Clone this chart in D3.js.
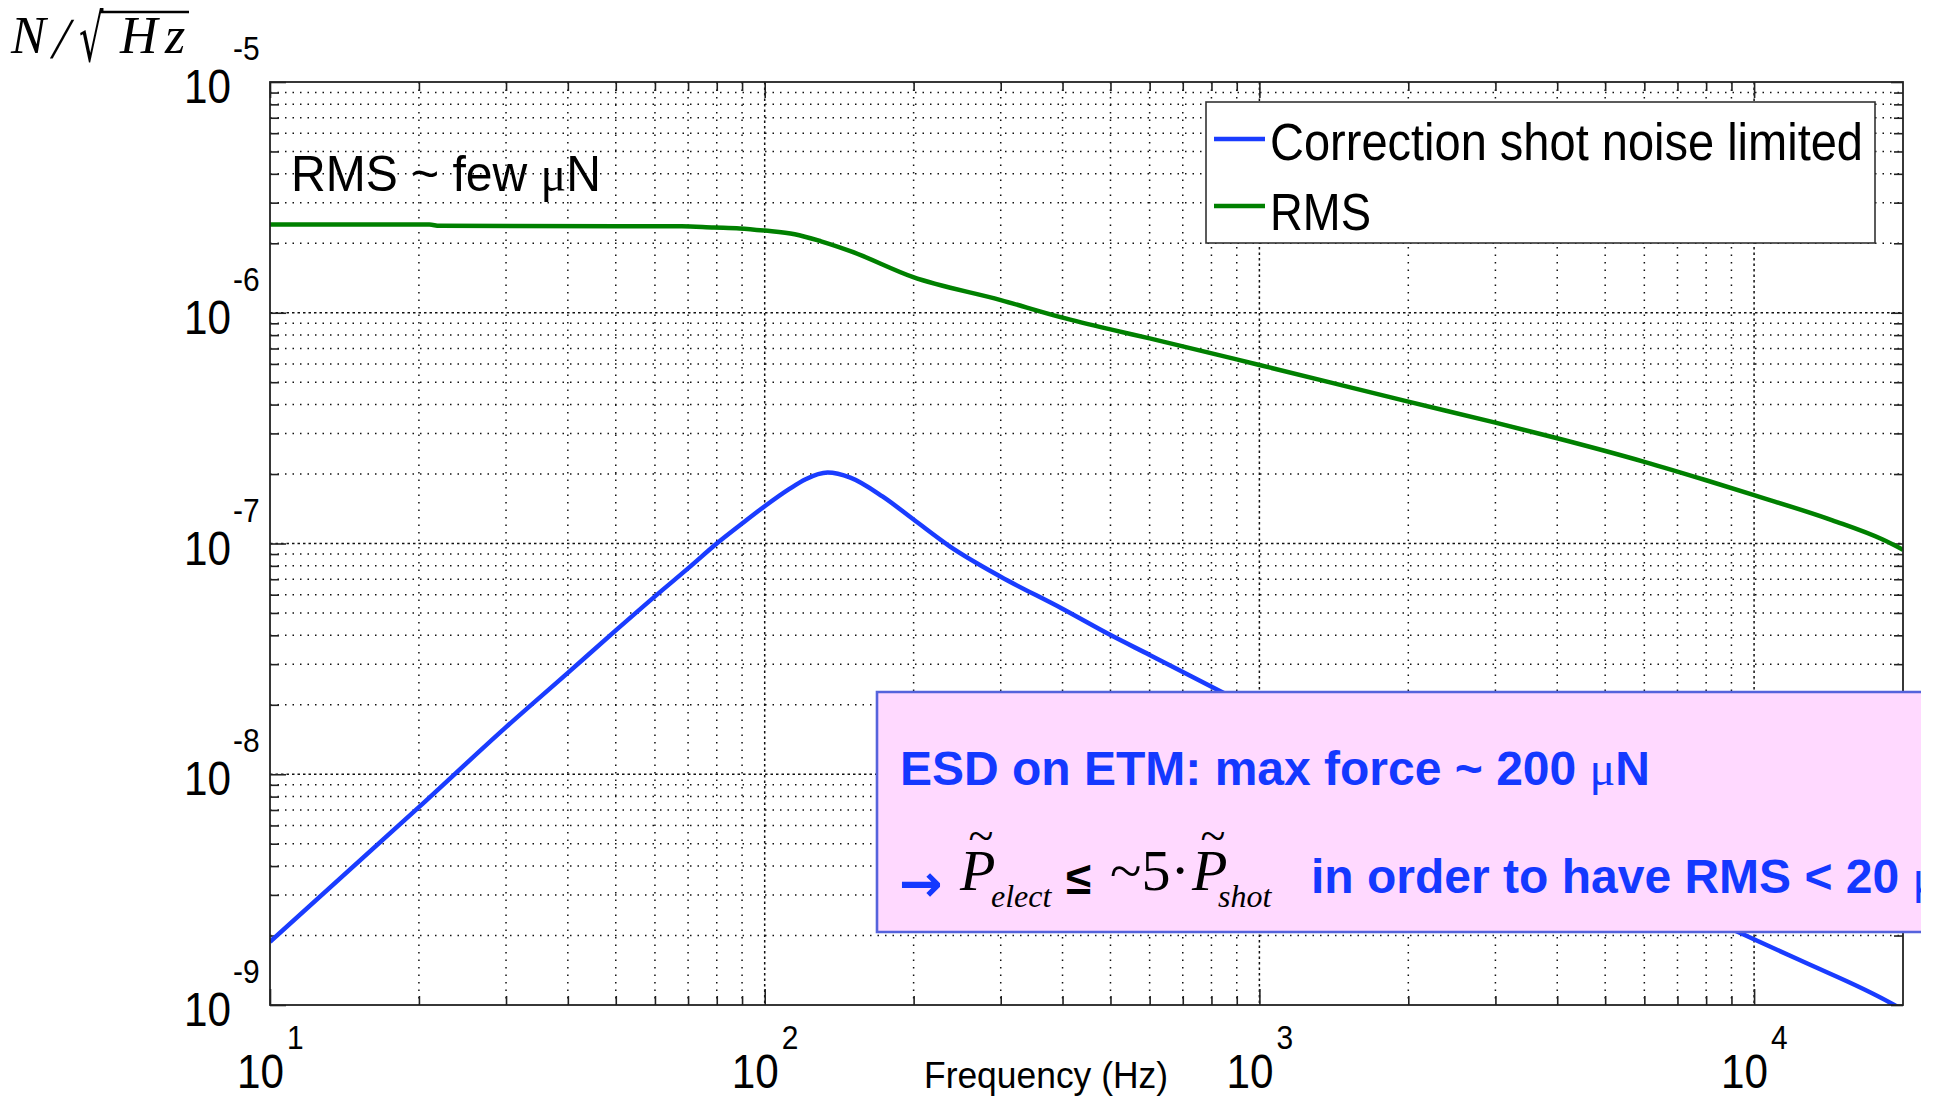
<!DOCTYPE html>
<html>
<head>
<meta charset="utf-8">
<script src="https://cdn.jsdelivr.net/npm/d3@7"></script>
<style>
  html, body { margin: 0; padding: 0; background: #fff; }
  svg { display: block; }
</style>
</head>
<body>
<svg id="chart" width="1934" height="1099"></svg>
<script>
// ---- data -------------------------------------------------------------
// Correction force spectrum when shot-noise limited (N/sqrt(Hz))
const freqCorrection = [10, 20, 30, 40, 50, 60, 70, 80, 90, 100, 112, 121, 134, 149, 173, 200,
                        237, 300, 398, 499, 600, 830, 9330, 12330, 19200, 20000];
const correctionNoise = [1.88e-9, 7.2e-9, 1.6e-8, 2.75e-8, 4.2e-8, 5.9e-8, 7.8e-8, 1.0e-7,
                         1.22e-7, 1.45e-7, 1.72e-7, 1.9e-7, 2.03e-7, 1.93e-7, 1.6e-7, 1.27e-7,
                         9.7e-8, 7.18e-8, 5.24e-8, 4.02e-8, 3.29e-8, 2.30e-8, 2.06e-9, 1.57e-9,
                         1.0e-9, 9.5e-10];

// Cumulative RMS (integrated from high to low frequency)
const freqRMS = [10, 21, 22, 68, 79, 89, 100, 115, 130, 149, 199, 300, 398, 500, 600, 1000,
                 2000, 3000, 4000, 6000, 8000, 10000, 14400, 18200, 20000];
const rmsValues = [2.41e-6, 2.41e-6, 2.38e-6, 2.37e-6, 2.34e-6, 2.32e-6, 2.27e-6, 2.19e-6,
                   2.04e-6, 1.85e-6, 1.43e-6, 1.135e-6, 9.55e-7, 8.47e-7, 7.74e-7, 5.94e-7,
                   4.12e-7, 3.34e-7, 2.86e-7, 2.26e-7, 1.88e-7, 1.62e-7, 1.26e-7, 1.04e-7, 9.4e-8];

const seriesNames = ["Correction shot noise limited", "RMS"];
const seriesColors = ["#1a3cff", "#008000"];

const xTickExponents = [1, 2, 3, 4];
const yTickExponents = [-9, -8, -7, -6, -5];

// ---- layout -----------------------------------------------------------
const L = 270, R = 1903, T = 82, B = 1005;
const SANS = "'Liberation Sans', Arial, Helvetica, sans-serif";
const SERIF = "'Liberation Serif', 'Times New Roman', serif";

const svg = d3.select("#chart");

const x = d3.scaleLog().domain([10, 2e4]).range([L, R]);
const y = d3.scaleLog().domain([1e-9, 1e-5]).range([B, T]);

const majorX = xTickExponents.map(e => Math.pow(10, e));
const majorY = yTickExponents.map(e => Math.pow(10, e));
const minorX = [];
for (let e = 1; e <= 4; e++) for (let m = 2; m <= 9; m++) {
  const v = m * Math.pow(10, e);
  if (v < 2e4) minorX.push(v);
}
const minorY = [];
for (let e = -9; e < -5; e++) for (let m = 2; m <= 9; m++) minorY.push(m * Math.pow(10, e));

// ---- grid (dotted, major lines denser) --------------------------------
const grid = svg.append("g").attr("stroke", "#111").attr("stroke-width", 1.5).attr("fill", "none");
grid.selectAll(".gxm").data(minorX).join("line")
  .attr("x1", d => x(d)).attr("x2", d => x(d)).attr("y1", T).attr("y2", B)
  .attr("stroke-dasharray", "1.5,6");
grid.selectAll(".gym").data(minorY).join("line")
  .attr("x1", L).attr("x2", R).attr("y1", d => y(d)).attr("y2", d => y(d))
  .attr("stroke-dasharray", "1.5,6");
grid.selectAll(".gxM").data(majorX.slice(1)).join("line")
  .attr("x1", d => x(d)).attr("x2", d => x(d)).attr("y1", T).attr("y2", B)
  .attr("stroke-dasharray", "2.5,3");
grid.selectAll(".gyM").data(majorY.slice(1, -1)).join("line")
  .attr("x1", L).attr("x2", R).attr("y1", d => y(d)).attr("y2", d => y(d))
  .attr("stroke-dasharray", "2.5,3");

// ---- inward ticks on all four sides ------------------------------------
function ticks(axisFn, scale, values, size, transform) {
  const g = svg.append("g").attr("transform", transform)
    .call(axisFn(scale).tickValues(values).tickSize(-size).tickFormat(""));
  g.select(".domain").remove();
  g.selectAll("line").attr("stroke", "#222").attr("stroke-width", 1.6);
}
ticks(d3.axisBottom, x, majorX, 16, `translate(0,${B})`);
ticks(d3.axisBottom, x, minorX, 9, `translate(0,${B})`);
ticks(d3.axisTop, x, majorX, 16, `translate(0,${T})`);
ticks(d3.axisTop, x, minorX, 9, `translate(0,${T})`);
ticks(d3.axisLeft, y, majorY, 16, `translate(${L},0)`);
ticks(d3.axisLeft, y, minorY, 9, `translate(${L},0)`);
ticks(d3.axisRight, y, majorY, 12, `translate(${R},0)`);
ticks(d3.axisRight, y, minorY, 9, `translate(${R},0)`);

// ---- curves ------------------------------------------------------------
svg.append("clipPath").attr("id", "plotClip")
  .append("rect").attr("x", L).attr("y", T).attr("width", R - L).attr("height", B - T);

const line = d3.line().x(d => x(d[0])).y(d => y(d[1])).curve(d3.curveMonotoneX);
const corrData = freqCorrection.map((f, i) => [f, correctionNoise[i]]);
const rmsData = freqRMS.map((f, i) => [f, rmsValues[i]]);

const curves = svg.append("g").attr("clip-path", "url(#plotClip)").attr("fill", "none")
  .attr("stroke-width", 4.5).attr("stroke-linejoin", "round");
curves.append("path").attr("d", line(corrData)).attr("stroke", seriesColors[0]);
curves.append("path").attr("d", line(rmsData)).attr("stroke", seriesColors[1]);

// ---- frame -------------------------------------------------------------
svg.append("rect").attr("x", L).attr("y", T).attr("width", R - L).attr("height", B - T)
  .attr("fill", "none").attr("stroke", "#222").attr("stroke-width", 1.8);

// ---- tick labels: 10 with superscript exponent -------------------------
const xl = svg.append("g").attr("font-family", SANS).attr("fill", "#000")
  .selectAll("g").data(xTickExponents).join("g")
  .attr("transform", e => `translate(${x(Math.pow(10, e))},0)`);
xl.append("text").attr("transform", "translate(14,1088) scale(0.88,1)")
  .attr("text-anchor", "end").attr("font-size", 48).text("10");
xl.append("text").attr("transform", "translate(17,1049) scale(0.88,1)")
  .attr("font-size", 34).text(e => e);

const yl = svg.append("g").attr("font-family", SANS).attr("fill", "#000")
  .selectAll("g").data(yTickExponents).join("g")
  .attr("transform", e => `translate(0,${y(Math.pow(10, e))})`);
yl.append("text").attr("transform", "translate(231,21) scale(0.88,1)")
  .attr("text-anchor", "end").attr("font-size", 48).text("10");
yl.append("text").attr("transform", "translate(233,-22) scale(0.88,1)")
  .attr("font-size", 34).text(e => e);

// ---- axis titles -------------------------------------------------------
svg.append("text").attr("x", 924).attr("y", 1088).attr("font-family", SANS)
  .attr("font-size", 37).attr("textLength", 244).attr("lengthAdjust", "spacingAndGlyphs")
  .text("Frequency (Hz)");

const yTitle = svg.append("g").attr("font-family", SERIF).attr("font-style", "italic").attr("fill", "#000");
yTitle.append("text").attr("x", 11).attr("y", 53).attr("font-size", 52).text("N");
yTitle.append("text").attr("transform", "translate(50,58) skewX(-12)").attr("font-size", 58)
  .attr("font-style", "normal").text("/");
yTitle.append("text").attr("transform", "translate(79,61) scale(0.62,1.06)").attr("font-size", 62)
  .attr("font-family", "'DejaVu Serif', serif").attr("font-style", "normal").text("√");
yTitle.append("text").attr("x", 120).attr("y", 53).attr("font-size", 52).text("H");
yTitle.append("text").attr("x", 165).attr("y", 53).attr("font-size", 52).text("z");
yTitle.append("line").attr("x1", 100).attr("x2", 189).attr("y1", 12).attr("y2", 12)
  .attr("stroke", "#000").attr("stroke-width", 2.6);

// ---- in-plot annotation ------------------------------------------------
const note = svg.append("text").attr("x", 291).attr("y", 191).attr("font-family", SANS)
  .attr("font-size", 50).attr("textLength", 310).attr("lengthAdjust", "spacingAndGlyphs");
note.append("tspan").text("RMS ~ few ");
note.append("tspan").attr("font-family", SERIF).text("μ");
note.append("tspan").text("N");

// ---- legend ------------------------------------------------------------
const legend = svg.append("g");
legend.append("rect").attr("x", 1206).attr("y", 102).attr("width", 669).attr("height", 141)
  .attr("fill", "#fff").attr("stroke", "#333").attr("stroke-width", 1.6);
const legendRows = legend.selectAll("g").data(seriesNames).join("g")
  .attr("transform", (d, i) => `translate(0,${i === 0 ? 139 : 206})`);
legendRows.append("line").attr("x1", 1214).attr("x2", 1265).attr("y1", 0).attr("y2", 0)
  .attr("stroke", (d, i) => seriesColors[i]).attr("stroke-width", 4.5);
legendRows.append("text").attr("x", 1270).attr("y", (d, i) => i === 0 ? 21 : 24)
  .attr("font-family", SANS).attr("font-size", 51)
  .attr("textLength", (d, i) => i === 0 ? 593 : 101).attr("lengthAdjust", "spacingAndGlyphs")
  .text(d => d);

// ---- ESD callout box ---------------------------------------------------
const BX0 = 877, BX1 = 1921, BY0 = 692, BY1 = 932;
svg.append("clipPath").attr("id", "boxClip")
  .append("rect").attr("x", BX0).attr("y", BY0).attr("width", BX1 - BX0).attr("height", BY1 - BY0);
svg.append("rect").attr("x", BX0).attr("y", BY0).attr("width", BX1 - BX0).attr("height", BY1 - BY0)
  .attr("fill", "#ffd9ff");
svg.append("path").attr("d", `M${BX1},${BY0}H${BX0}V${BY1}H${BX1}`)
  .attr("fill", "none").attr("stroke", "#5563dc").attr("stroke-width", 2.6);

const box = svg.append("g").attr("clip-path", "url(#boxClip)");
const BLUE_TXT = "#1438ff";

const l1 = box.append("text").attr("x", 900).attr("y", 785).attr("font-family", SANS)
  .attr("font-weight", "bold").attr("font-size", 48).attr("fill", BLUE_TXT);
l1.append("tspan").text("ESD on ETM: max force ~ 200 ");
l1.append("tspan").attr("font-family", SERIF).attr("font-weight", "normal").text("μ");
l1.append("tspan").text("N");

box.append("text").attr("x", 899).attr("y", 901).attr("font-family", "'DejaVu Sans', sans-serif")
  .attr("font-weight", "bold").attr("font-size", 52).attr("fill", BLUE_TXT).text("→");

const math = box.append("g").attr("font-family", SERIF).attr("fill", "#000");
math.append("text").attr("x", 960).attr("y", 890).attr("font-size", 58).attr("font-style", "italic").text("P");
math.append("text").attr("x", 981).attr("y", 851).attr("font-size", 46).attr("text-anchor", "middle").text("~");
math.append("text").attr("x", 991).attr("y", 907).attr("font-size", 32).attr("font-style", "italic").text("elect");
math.append("text").attr("x", 1066).attr("y", 894).attr("font-family", SANS).attr("font-weight", "bold")
  .attr("font-size", 46).text("≤");
math.append("text").attr("x", 1110).attr("y", 890).attr("font-size", 58).text("~5·");
math.append("text").attr("x", 1192).attr("y", 890).attr("font-size", 58).attr("font-style", "italic").text("P");
math.append("text").attr("x", 1213).attr("y", 851).attr("font-size", 46).attr("text-anchor", "middle").text("~");
math.append("text").attr("x", 1218).attr("y", 907).attr("font-size", 32).attr("font-style", "italic").text("shot");

const l2 = box.append("text").attr("x", 1311).attr("y", 893).attr("font-family", SANS)
  .attr("font-weight", "bold").attr("font-size", 48).attr("fill", BLUE_TXT);
l2.append("tspan").text("in order to have RMS < 20 ");
l2.append("tspan").attr("font-family", SERIF).attr("font-weight", "normal").text("μ");
l2.append("tspan").text("N");
</script>
</body>
</html>
